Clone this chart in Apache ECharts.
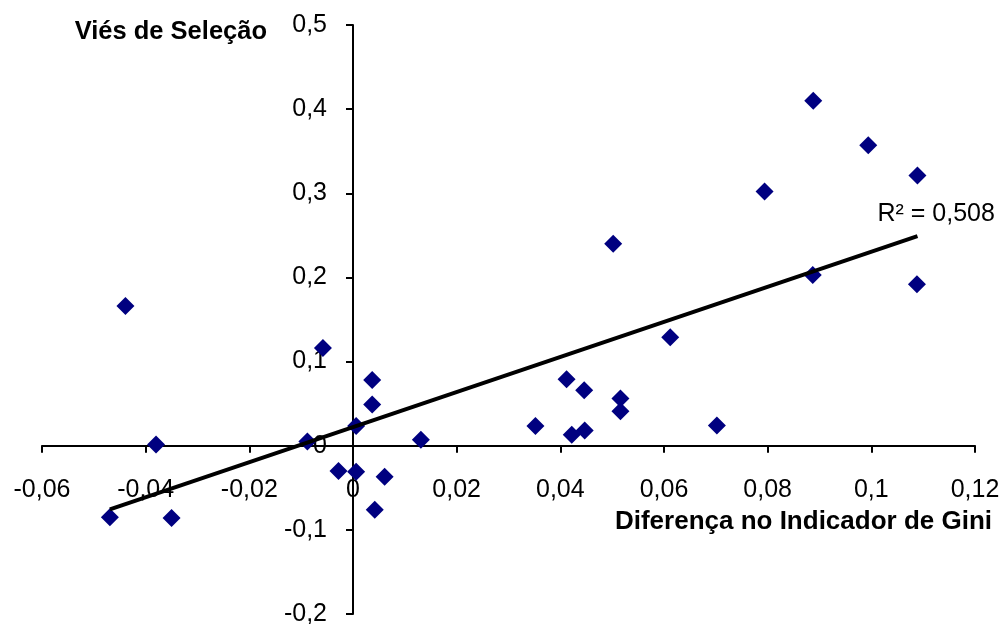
<!DOCTYPE html>
<html>
<head>
<meta charset="utf-8">
<script src="https://cdn.jsdelivr.net/npm/echarts@6/dist/echarts.min.js"></script>
<style>
  html, body { margin: 0; padding: 0; background: #fff; }
  #chart { width: 1004px; height: 624px; }
</style>
</head>
<body>
<div id="chart"></div>
<script>
// Diferença no Indicador de Gini (x) x Viés de Seleção (y)
const giniDiff = [
  -0.0439, 0.0888, 0.0994, 0.1089, 0.0794, 0.0502, 0.0887, 0.1088,
  -0.0058, 0.0037, 0.0037, 0.0006, -0.0088, 0.0131, -0.0380, -0.0028,
  0.0006, 0.0061, 0.0042, -0.0469, -0.0350, 0.0612, 0.0412, 0.0446,
  0.0516, 0.0516, 0.0352, 0.0702, 0.0422, 0.0447
];
const selectionBias = [
  0.166, 0.410, 0.357, 0.321, 0.302, 0.240, 0.203, 0.192,
  0.116, 0.078, 0.049, 0.0235, 0.005, 0.007, 0.0013, -0.030,
  -0.031, -0.037, -0.076, -0.085, -0.086, 0.129, 0.079, 0.066,
  0.056, 0.041, 0.0235, 0.024, 0.013, 0.018
];
const xTicks = { min: -0.06, max: 0.12, step: 0.02 };
const yTicks = { min: -0.2, max: 0.5, step: 0.1 };
const r2Text = 'R² = 0,508';
const xTitle = 'Diferença no Indicador de Gini';
const yTitle = 'Viés de Seleção';

const FONT = '"Liberation Sans", Arial, sans-serif';
const GRID = { left: 42, right: 29, top: 25, bottom: 10 };

// regressão linear (linha de tendência)
const n = giniDiff.length;
const mx = giniDiff.reduce((a, b) => a + b, 0) / n;
const my = selectionBias.reduce((a, b) => a + b, 0) / n;
let sxy = 0, sxx = 0;
for (let i = 0; i < n; i++) {
  sxy += (giniDiff[i] - mx) * (selectionBias[i] - my);
  sxx += (giniDiff[i] - mx) * (giniDiff[i] - mx);
}
const slope = sxy / sxx;
const intercept = my - slope * mx;
const xMin = Math.min(...giniDiff);
const xMax = Math.max(...giniDiff);
const trend = [
  [xMin, intercept + slope * xMin],
  [xMax, intercept + slope * xMax]
];

const fmt = (v) => String(parseFloat(v.toFixed(2))).replace('.', ',');

const axisCommon = {
  axisLine: { onZero: false, lineStyle: { color: '#000', width: 2 } },
  axisTick: { show: true, length: 7, lineStyle: { color: '#000', width: 2 } },
  splitLine: { show: false },
  axisLabel: { color: '#000', fontSize: 25, fontFamily: FONT, formatter: fmt }
};

const chart = echarts.init(document.getElementById('chart'));
chart.setOption({
  animation: false,
  backgroundColor: '#fff',
  grid: { ...GRID, containLabel: false, outerBoundsMode: 'none' },
  xAxis: {
    type: 'value', position: 'bottom',
    min: xTicks.min, max: xTicks.max, interval: xTicks.step,
    ...axisCommon,
    axisLabel: { ...axisCommon.axisLabel, margin: 32 }
  },
  yAxis: {
    type: 'value', position: 'left',
    min: yTicks.min, max: yTicks.max, interval: yTicks.step,
    ...axisCommon,
    axisLabel: { ...axisCommon.axisLabel, margin: 26 }
  },
  graphic: [
    {
      type: 'text', right: 1004 - 267, top: 19,
      style: { text: yTitle, font: 'bold 25.5px ' + FONT, fill: '#000' }
    },
    {
      type: 'text', right: 1004 - 992, top: 509,
      style: { text: xTitle, font: 'bold 26px ' + FONT, fill: '#000' }
    }
  ],
  series: [
    {
      type: 'scatter',
      data: giniDiff.map((x, i) => [x, selectionBias[i]]),
      symbol: 'diamond',
      symbolSize: 18,
      itemStyle: { color: '#000080', opacity: 1 },
      z: 2
    },
    {
      type: 'line',
      data: trend,
      symbol: 'none',
      lineStyle: { color: '#000', width: 4 },
      z: 3,
      endLabel: {
        show: true,
        formatter: r2Text,
        color: '#000',
        fontSize: 25,
        fontFamily: FONT,
        offset: [-48, -22]
      }
    }
  ]
});

// eixos cruzando em zero: desloca cada eixo até a origem
const origin = chart.convertToPixel({ gridIndex: 0 }, [0, 0]);
chart.setOption({
  xAxis: { offset: origin[1] - (624 - GRID.bottom) },
  yAxis: { offset: GRID.left - origin[0] }
});
</script>
</body>
</html>
